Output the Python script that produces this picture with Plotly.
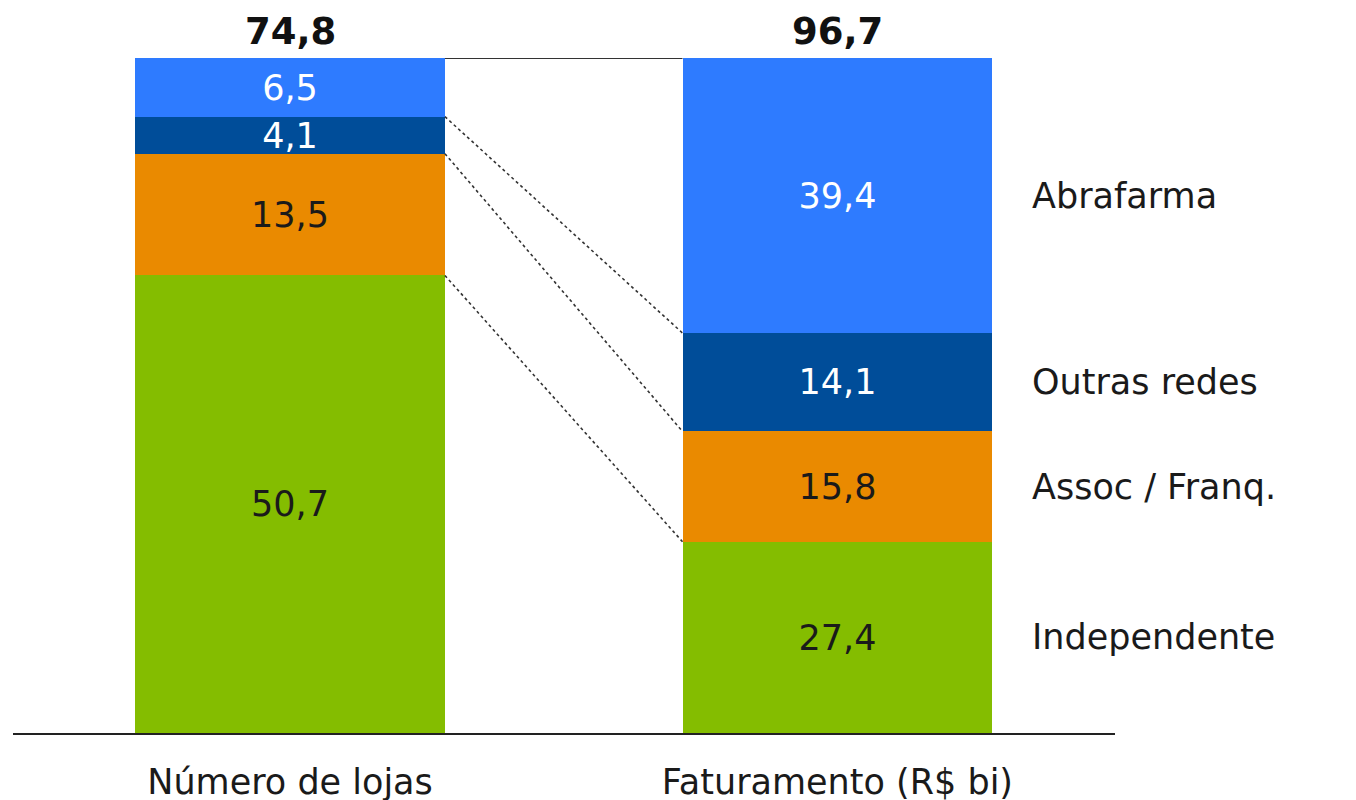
import plotly.graph_objects as go

categories = ["Número de lojas", "Faturamento (R$ bi)"]
segments = ["Independente", "Assoc / Franq.", "Outras redes", "Abrafarma"]
lojas = [50.7, 13.5, 4.1, 6.5]
faturamento = [27.4, 15.8, 14.1, 39.4]
totals = [74.8, 96.7]

colors = ["#84BD00", "#EA8A00", "#004D99", "#2E7BFF"]
text_colors = ["#1a1a1a", "#1a1a1a", "#ffffff", "#ffffff"]

FONT = "DejaVu Sans"
FS = 35
BAR_W = 0.566

def fmt(v):
    return f"{v:.1f}".replace(".", ",")

series = [lojas, faturamento]
pcts = [[v / totals[i] * 100 for v in s] for i, s in enumerate(series)]

fig = go.Figure()
for j, seg in enumerate(segments):
    fig.add_trace(go.Bar(
        x=[0, 1],
        y=[pcts[0][j], pcts[1][j]],
        width=BAR_W,
        name=seg,
        marker=dict(color=colors[j], line=dict(width=0)),
        text=[fmt(lojas[j]), fmt(faturamento[j])],
        textposition="inside",
        insidetextanchor="middle",
        textangle=0,
        textfont=dict(family=FONT, size=FS, color=text_colors[j]),
        hoverinfo="skip",
    ))

# cumulative boundaries
def cum(p):
    out, s = [], 0
    for v in p:
        s += v
        out.append(s)
    return out

cl, cr = cum(pcts[0]), cum(pcts[1])
shapes = []
for k in range(len(segments)):
    top = (k == len(segments) - 1)
    shapes.append(dict(
        type="line", xref="x", yref="y",
        x0=0 + BAR_W / 2, x1=1 - BAR_W / 2,
        y0=cl[k], y1=cr[k],
        line=dict(color="#333333", width=1.8 if top else 1.6, dash="solid" if top else "dot"),
    ))

annotations = []
for i, t in enumerate(totals):
    annotations.append(dict(
        x=i, y=100, xref="x", yref="y", text=f"<b>{fmt(t)}</b>",
        showarrow=False, yanchor="bottom", yshift=3,
        font=dict(family=FONT, size=37, color="#111111"),
    ))
prev = 0
for j, seg in enumerate(segments):
    mid = prev + pcts[1][j] / 2
    prev += pcts[1][j]
    annotations.append(dict(
        x=1 + BAR_W / 2, y=mid, xref="x", yref="y", text=seg,
        showarrow=False, xanchor="left", xshift=38,
        font=dict(family=FONT, size=FS, color="#1a1a1a"),
    ))

fig.update_layout(
    barmode="stack",
    width=1356, height=800,
    margin=dict(l=5, r=249, t=50, b=75),
    paper_bgcolor="white", plot_bgcolor="white",
    showlegend=False,
    bargap=0,
    uniformtext=dict(mode="show", minsize=FS),
    shapes=shapes,
    annotations=annotations,
    font=dict(family=FONT, size=FS, color="#1a1a1a"),
)
fig.update_xaxes(
    range=[-0.506, 1.507], tickvals=[0, 1], ticktext=categories,
    showline=True, linecolor="#222222", linewidth=1.5,
    showgrid=False, zeroline=False, ticks="", automargin=False,
    tickfont=dict(family=FONT, size=FS, color="#1a1a1a"),
    ticklabelstandoff=17,
)
fig.update_yaxes(range=[0, 100], visible=False, showgrid=False, zeroline=False, automargin=False)

fig.write_html("out.html")
